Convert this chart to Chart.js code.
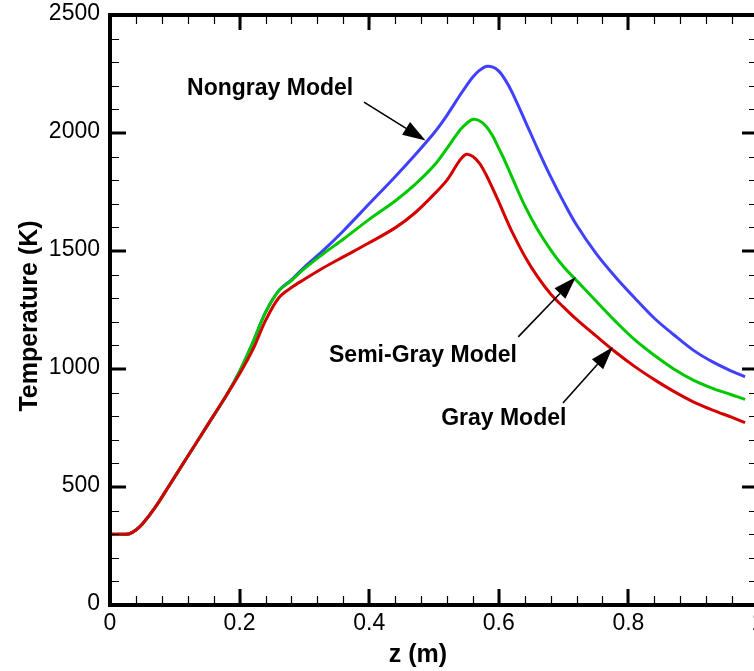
<!DOCTYPE html>
<html>
<head>
<meta charset="utf-8">
<script src="https://cdn.jsdelivr.net/npm/chart.js@4.4.1/dist/chart.umd.min.js"></script>
<style>
  html, body { margin: 0; padding: 0; background: #fff; overflow: hidden; }
  #wrap { width: 754px; height: 671px; overflow: hidden; }
</style>
</head>
<body>
<div id="wrap"><canvas id="chart" width="800" height="671"></canvas></div>
<script>
// axial position z (m)
const zPos = [0, 0.02, 0.03, 0.04, 0.05, 0.07, 0.09, 0.12, 0.15, 0.18, 0.20, 0.22, 0.24, 0.26, 0.28,
  0.30, 0.33, 0.36, 0.40, 0.44, 0.47, 0.50, 0.52, 0.54, 0.55, 0.56, 0.57, 0.58, 0.59, 0.60, 0.61,
  0.62, 0.64, 0.66, 0.68, 0.70, 0.72, 0.75, 0.78, 0.81, 0.84, 0.87, 0.90, 0.93, 0.96, 0.98];

// temperature (K) for each radiation model
const tGray = [300, 300, 302, 318, 343, 415, 500, 630, 760, 890, 980, 1080, 1205, 1300, 1345,
  1380, 1430, 1475, 1535, 1598, 1660, 1740, 1800, 1885, 1910, 1900, 1872, 1825, 1768, 1708, 1645,
  1584, 1478, 1390, 1318, 1262, 1210, 1140, 1072, 1010, 955, 905, 861, 826, 795, 773];
const tSemiGray = [300, 300, 302, 318, 343, 415, 500, 630, 760, 890, 990, 1110, 1240, 1330, 1375,
  1425, 1490, 1550, 1634, 1712, 1780, 1862, 1935, 2012, 2040, 2058, 2052, 2030, 1990, 1935, 1878,
  1815, 1692, 1590, 1505, 1433, 1375, 1288, 1202, 1123, 1058, 1000, 953, 918, 890, 871];
const tNongray = [300, 300, 302, 318, 343, 415, 500, 630, 760, 890, 990, 1110, 1240, 1330, 1378,
  1432, 1505, 1585, 1700, 1815, 1905, 2000, 2075, 2160, 2200, 2237, 2265, 2282, 2280, 2262, 2225,
  2175, 2055, 1932, 1815, 1708, 1610, 1490, 1390, 1300, 1215, 1145, 1080, 1030, 990, 967];

const xMajor = [0, 0.2, 0.4, 0.6, 0.8, 1.0];
const xTickLabels = ['0', '0.2', '0.4', '0.6', '0.8', '1'];
const yMajor = [0, 500, 1000, 1500, 2000, 2500];
const yTickLabels = ['0', '500', '1000', '1500', '2000', '2500'];

// callout labels: text, text anchor (z, T), arrow tail (z, T), arrow tip (z, T)
const notes = [
  { text: 'Nongray Model', at: [0.119, 2161], from: [0.392, 2131], to: [0.487, 1968] },
  { text: 'Semi-Gray Model', at: [0.338, 1031], from: [0.630, 1136], to: [0.719, 1390] },
  { text: 'Gray Model', at: [0.511, 763], from: [0.699, 856], to: [0.776, 1093] }
];

const FONT = '"Liberation Sans", Arial, Helvetica, sans-serif';

function series(vals) {
  return zPos.map((z, i) => ({ x: z, y: vals[i] }));
}

const frame = {
  id: 'frame',
  afterDraw(chart) {
    const ctx = chart.ctx;
    const a = chart.chartArea;
    const xs = chart.scales.x;
    const ys = chart.scales.y;
    ctx.save();
    ctx.strokeStyle = '#000';
    ctx.fillStyle = '#000';
    ctx.lineCap = 'butt';

    // minor ticks
    ctx.lineWidth = 1.2;
    ctx.beginPath();
    for (let v = 0; v <= 1.0001; v += 0.04) {
      const px = Math.round(xs.getPixelForValue(v)) + 0.5;
      ctx.moveTo(px, a.bottom); ctx.lineTo(px, a.bottom - 9);
      ctx.moveTo(px, a.top); ctx.lineTo(px, a.top + 9);
    }
    for (let v = 0; v <= 2500; v += 100) {
      const py = Math.round(ys.getPixelForValue(v)) + 0.5;
      ctx.moveTo(a.left, py); ctx.lineTo(a.left + 9, py);
      ctx.moveTo(a.right, py); ctx.lineTo(a.right - 9, py);
    }
    ctx.stroke();

    // major ticks
    ctx.lineWidth = 3;
    ctx.beginPath();
    xMajor.forEach(v => {
      const px = Math.round(xs.getPixelForValue(v));
      ctx.moveTo(px, a.bottom); ctx.lineTo(px, a.bottom - 16);
      ctx.moveTo(px, a.top); ctx.lineTo(px, a.top + 15);
    });
    yMajor.forEach(v => {
      const py = Math.round(ys.getPixelForValue(v));
      ctx.moveTo(a.left, py); ctx.lineTo(a.left + 16, py);
      ctx.moveTo(a.right, py); ctx.lineTo(a.right - 16, py);
    });
    ctx.stroke();

    // box
    ctx.lineWidth = 4;
    ctx.strokeRect(a.left, a.top, a.right - a.left, a.bottom - a.top);

    // tick labels
    ctx.font = '23px ' + FONT;
    ctx.textAlign = 'right';
    ctx.textBaseline = 'middle';
    yMajor.forEach((v, i) => ctx.fillText(yTickLabels[i], a.left - 10, ys.getPixelForValue(v) - 1));
    ctx.textAlign = 'center';
    ctx.textBaseline = 'top';
    xMajor.forEach((v, i) => ctx.fillText(xTickLabels[i], xs.getPixelForValue(v), a.bottom + 7));

    // axis titles
    ctx.font = 'bold 25px ' + FONT;
    ctx.textAlign = 'center';
    ctx.textBaseline = 'middle';
    ctx.fillText('z (m)', 418, 655);
    ctx.save();
    ctx.translate(30, 316);
    ctx.rotate(-Math.PI / 2);
    ctx.fillText('Temperature (K)', 0, 0);
    ctx.restore();

    // callouts
    ctx.font = 'bold 23px ' + FONT;
    ctx.textAlign = 'left';
    ctx.textBaseline = 'alphabetic';
    notes.forEach(n => {
      ctx.fillText(n.text, xs.getPixelForValue(n.at[0]), ys.getPixelForValue(n.at[1]));
      const x0 = xs.getPixelForValue(n.from[0]), y0 = ys.getPixelForValue(n.from[1]);
      const x1 = xs.getPixelForValue(n.to[0]), y1 = ys.getPixelForValue(n.to[1]);
      const ang = Math.atan2(y1 - y0, x1 - x0);
      const len = 23, half = 7.5;
      const bx = x1 - len * Math.cos(ang), by = y1 - len * Math.sin(ang);
      ctx.lineWidth = 1.6;
      ctx.beginPath();
      ctx.moveTo(x0, y0); ctx.lineTo(bx, by);
      ctx.stroke();
      ctx.beginPath();
      ctx.moveTo(x1, y1);
      ctx.lineTo(bx + half * Math.sin(ang), by - half * Math.cos(ang));
      ctx.lineTo(bx - half * Math.sin(ang), by + half * Math.cos(ang));
      ctx.closePath();
      ctx.fill();
    });
    ctx.restore();
  }
};

new Chart(document.getElementById('chart'), {
  type: 'line',
  data: {
    datasets: [
      { label: 'Gray Model', data: series(tGray), borderColor: '#d40000' },
      { label: 'Semi-Gray Model', data: series(tSemiGray), borderColor: '#00c800' },
      { label: 'Nongray Model', data: series(tNongray), borderColor: '#4040ff' }
    ]
  },
  options: {
    responsive: false,
    devicePixelRatio: 1,
    animation: false,
    layout: { padding: { top: 15, right: 42, left: 0, bottom: 0 } },
    elements: {
      point: { radius: 0 },
      line: { borderWidth: 3, tension: 0.35, fill: false }
    },
    plugins: { legend: { display: false }, tooltip: { enabled: false } },
    scales: {
      x: {
        type: 'linear', min: 0, max: 1,
        grid: { display: false, drawTicks: false },
        border: { display: false },
        ticks: { display: false },
        afterFit(s) { s.height = 66; }
      },
      y: {
        type: 'linear', min: 0, max: 2500,
        grid: { display: false, drawTicks: false },
        border: { display: false },
        ticks: { display: false },
        afterFit(s) { s.width = 110; }
      }
    }
  },
  plugins: [frame]
});
</script>
</body>
</html>
